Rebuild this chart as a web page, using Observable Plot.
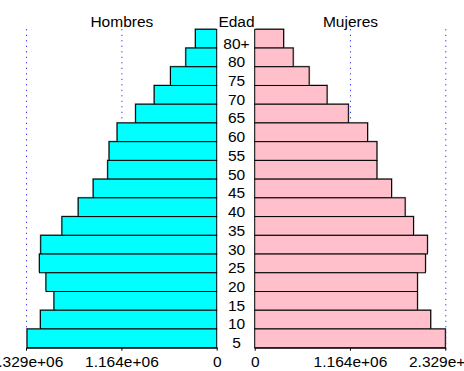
<!DOCTYPE html>
<html><head><meta charset="utf-8">
<script src="https://cdn.jsdelivr.net/npm/d3@7"></script>
<script src="https://cdn.jsdelivr.net/npm/@observablehq/plot@0.6"></script>
<style>
body{margin:0;background:#fff;}
#row{display:flex;flex-direction:row;width:464px;height:371px;overflow:hidden;}
#row svg{overflow:visible;display:block;flex:none;max-width:none;}
</style></head><body><div id="row"></div>
<script>
const ages = ["80+","80","75","70","65","60","55","50","45","40","35","30","25","20","15","10","5"];
const hombres = [260000, 377000, 564000, 763000, 990000, 1216000, 1314000, 1331000, 1508000, 1691000, 1890000, 2149000, 2165000, 2085000, 1987000, 2153000, 2316000];
const mujeres = [353000, 470000, 665000, 884000, 1144000, 1379000, 1493000, 1493000, 1672000, 1838000, 1940000, 2110000, 2086000, 1988000, 1988000, 2150000, 2329000];
const tickValues = [0, 1164000, 2329000];
const tickLabels = ["0", "1.164e+06", "2.329e+06"];
const gridValues = [1164000, 2329000];
const titles = ["Hombres", "Edad", "Mujeres"];

const H = 371, MT = 29.3, MB = 23.3, FS = 15.5;
const font = "'Liberation Sans', Arial, Helvetica, sans-serif";
const men = ages.map((a, i) => ({age: a, value: hombres[i]}));
const women = ages.map((a, i) => ({age: a, value: mujeres[i]}));
const yScale = {type: "band", domain: ages, range: [MT, H - MB], paddingInner: 0, paddingOuter: 0, round: false, axis: null};

function side(data, fillColor, title, reverse, width, ml, mr) {
  return Plot.plot({
    width, height: H, marginTop: MT, marginBottom: MB, marginLeft: ml, marginRight: mr,
    style: {fontFamily: font, fontSize: FS + "px", overflow: "visible", background: "transparent", color: "black"},
    x: {domain: [0, 2329000], reverse, ticks: tickValues,
        tickFormat: d => tickLabels[tickValues.indexOf(d)], tickSize: 3, tickPadding: 5, label: null},
    y: yScale,
    marks: [
      Plot.ruleX(gridValues, {stroke: "blue", strokeDasharray: "1,4.5", strokeWidth: 1}),
      Plot.barX(data, {x: "value", y: "age", fill: "#999", dx: reverse ? -1 : 1, dy: -1, insetTop: 0, insetBottom: 0}),
      Plot.barX(data, {x: "value", y: "age", fill: fillColor, stroke: "black", strokeWidth: 1, insetTop: 0, insetBottom: 0}),
      Plot.frame({anchor: "bottom"}),
      Plot.text([title], {frameAnchor: "top", dy: -14.3, fontSize: FS, text: d => d})
    ]
  });
}

const left = side(men, "#00ffff", titles[0], true, 218, 26, 1.3);
const mid = Plot.plot({
  width: 36, height: H, marginTop: MT, marginBottom: MB, marginLeft: 0, marginRight: 0,
  style: {fontFamily: font, fontSize: FS + "px", overflow: "visible", background: "transparent", color: "black"},
  y: yScale,
  marks: [
    Plot.text(ages, {y: d => d, text: d => d, frameAnchor: "middle", dy: 4.4, fontSize: FS}),
    Plot.text([titles[1]], {frameAnchor: "top", dy: -14.3, fontSize: FS, text: d => d})
  ]
});
const right = side(women, "#ffc0cb", titles[2], false, 210, 0.7, 18.7);

const row = document.getElementById("row");
row.append(left, mid, right);
</script></body></html>
